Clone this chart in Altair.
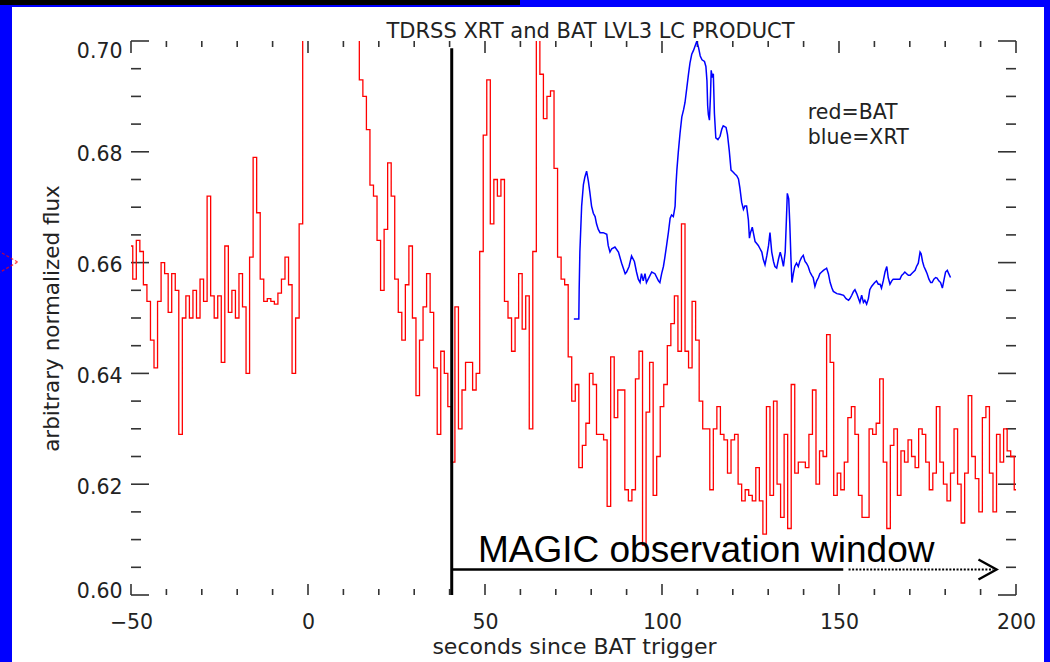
import altair as alt
import pandas as pd

# ---------------- data ----------------
# BAT (red) light curve: 1-s bins from -50 s to 200 s
bat_time = list(range(-50, 201))
bat_flux = [
    0.663, 0.657, 0.664, 0.662, 0.656, 0.653, 0.646, 0.641, 0.653, 0.660,   # -50..-41
    0.658, 0.651, 0.658, 0.655, 0.629, 0.650, 0.654, 0.650, 0.655, 0.650,   # -40..-31
    0.657, 0.653, 0.672, 0.654, 0.650, 0.654, 0.642, 0.663, 0.651, 0.655,   # -30..-21
    0.650, 0.658, 0.652, 0.640, 0.661, 0.679, 0.669, 0.657, 0.653, 0.6535,  # -20..-11
    0.653, 0.6525, 0.6545, 0.657, 0.661, 0.656, 0.640, 0.650, 0.667, 0.730, # -10..-1
    0.760, 0.790, 0.810, 0.830, 0.820, 0.800, 0.780, 0.770, 0.760, 0.750,   # 0..9
    0.740, 0.730, 0.720, 0.715, 0.708, 0.693, 0.690, 0.684, 0.674, 0.672,   # 10..19
    0.664, 0.655, 0.666, 0.678, 0.672, 0.657, 0.651, 0.646, 0.656, 0.663,   # 20..29
    0.650, 0.636, 0.646, 0.652, 0.658, 0.651, 0.641, 0.629, 0.644, 0.640,   # 30..39
    0.634, 0.624, 0.652, 0.630, 0.637, 0.642, 0.642, 0.637, 0.640, 0.662,   # 40..49
    0.683, 0.693, 0.667, 0.675, 0.672, 0.675, 0.653, 0.650, 0.644, 0.650,   # 50..59
    0.658, 0.648, 0.654, 0.630, 0.662, 0.705, 0.694, 0.686, 0.690, 0.691,   # 60..69
    0.677, 0.661, 0.657, 0.656, 0.643, 0.635, 0.638, 0.623, 0.627, 0.631,   # 70..79
    0.640, 0.638, 0.629, 0.629, 0.628, 0.616, 0.643, 0.632, 0.637, 0.637,   # 80..89
    0.619, 0.617, 0.619, 0.639, 0.644, 0.609, 0.633, 0.642, 0.618, 0.625,   # 90..99
    0.634, 0.638, 0.645, 0.649, 0.654, 0.644, 0.667, 0.644, 0.641, 0.653,   # 100..109
    0.646, 0.635, 0.630, 0.630, 0.619, 0.630, 0.634, 0.629, 0.628, 0.622,   # 110..119
    0.628, 0.629, 0.620, 0.617, 0.619, 0.618, 0.617, 0.623, 0.617, 0.611,   # 120..129
    0.634, 0.618, 0.635, 0.620, 0.614, 0.629, 0.612, 0.638, 0.622, 0.624,   # 130..139
    0.624, 0.623, 0.629, 0.637, 0.620, 0.626, 0.625, 0.647, 0.642, 0.618,   # 140..149
    0.622, 0.619, 0.624, 0.632, 0.634, 0.629, 0.618, 0.614, 0.614, 0.630,   # 150..159
    0.629, 0.631, 0.639, 0.624, 0.612, 0.627, 0.630, 0.618, 0.626, 0.624,   # 160..169
    0.628, 0.625, 0.623, 0.630, 0.629, 0.624, 0.619, 0.622, 0.634, 0.624,   # 170..179
    0.620, 0.617, 0.622, 0.630, 0.620, 0.613, 0.622, 0.636, 0.625, 0.621,   # 180..189
    0.615, 0.632, 0.634, 0.622, 0.615, 0.629, 0.624, 0.630, 0.626, 0.625, 0.619,  # 190..200
]

# XRT (blue) light curve
xrt_time = [
    75.1, 76.5, 76.6, 76.8, 77.3, 77.8, 78.2, 78.7, 79.2, 79.6,
    80.1, 80.6, 81.1, 81.5, 82.0, 82.5, 83.4, 84.4, 84.8, 85.3,
    85.8, 86.7, 87.7, 88.6, 89.6, 90.0, 90.7, 91.4, 92.2, 92.8,
    93.3, 93.8, 94.2, 94.7, 95.2, 95.6, 96.3, 97.1, 98.0, 99.0,
    99.4, 99.9, 100.4, 100.8, 101.3, 101.8, 102.3, 102.7, 103.2, 103.7,
    103.9, 104.2, 104.6, 105.1, 105.6, 106.1, 106.5, 107.0, 107.5, 107.9,
    108.4, 108.9, 109.4, 109.8, 110.3, 110.8, 111.3, 112.0, 112.4, 112.7,
    112.9, 113.1, 113.4, 113.7, 113.9, 114.2, 114.5, 114.8, 115.2, 115.8,
    116.4, 116.9, 117.3, 118.1, 118.5, 119.0, 119.5, 120.0, 120.6, 121.1,
    121.6, 122.0, 122.5, 123.0, 123.4, 123.9, 124.4, 124.7, 125.0, 125.5,
    125.8, 126.3, 126.7, 127.2, 127.7, 128.2, 128.6, 129.1, 129.6, 130.1,
    130.5, 131.0, 131.5, 131.9, 132.4, 132.9, 133.4, 133.8, 134.3, 134.8,
    135.1, 135.4, 135.8, 136.1, 136.4, 136.7, 137.1, 137.5, 138.0, 138.5,
    138.9, 139.4, 139.9, 140.4, 140.8, 141.3, 141.8, 142.3, 142.7, 143.2,
    143.7, 144.2, 144.6, 145.1, 145.6, 146.1, 146.5, 147.0, 147.5, 148.0,
    148.4, 149.4, 150.3, 151.3, 152.0, 152.7, 153.1, 153.6, 154.1, 154.5,
    155.0, 155.5, 155.9, 156.4, 156.9, 157.3, 157.8, 158.3, 158.7, 159.2,
    159.7, 160.1, 160.6, 161.1, 161.6, 162.0, 162.5, 163.0, 163.5, 163.9,
    164.4, 164.9, 165.3, 166.3, 167.2, 167.7, 168.2, 168.6, 169.1, 169.6,
    170.1, 170.5, 171.0, 171.5, 171.9, 172.4, 172.9, 173.2, 173.6, 174.0,
    174.5, 174.9, 175.4, 175.9, 176.3, 176.8, 177.3, 177.7, 178.2, 178.7,
    179.2, 179.6, 180.1, 180.6, 181.0, 181.5,
]
xrt_flux = [
    0.6498, 0.6498, 0.6551, 0.6619, 0.6702, 0.6741, 0.6754, 0.6765, 0.6747, 0.6728,
    0.6702, 0.6689, 0.6683, 0.6670, 0.6660, 0.6654, 0.6654, 0.6651, 0.6631, 0.6619,
    0.6625, 0.6628, 0.6619, 0.6599, 0.6580, 0.6583, 0.6593, 0.6612, 0.6602, 0.6583,
    0.6570, 0.6564, 0.6580, 0.6567, 0.6580, 0.6564, 0.6573, 0.6583, 0.6580, 0.6567,
    0.6564, 0.6580, 0.6593, 0.6609, 0.6631, 0.6654, 0.6680, 0.6686, 0.6683, 0.6702,
    0.6735, 0.6767, 0.6799, 0.6834, 0.6863, 0.6876, 0.6889, 0.6915, 0.6941, 0.6960,
    0.6976, 0.6983, 0.6992, 0.6999, 0.6989, 0.6973, 0.6966, 0.6963, 0.6954, 0.6928,
    0.6883, 0.6867, 0.6857, 0.6902, 0.6947, 0.6934, 0.6941, 0.6870, 0.6825, 0.6822,
    0.6828, 0.6841, 0.6847, 0.6844, 0.6831, 0.6802, 0.6767, 0.6764, 0.6760, 0.6757,
    0.6751, 0.6735, 0.6709, 0.6696, 0.6702, 0.6702, 0.6677, 0.6644, 0.6654, 0.6664,
    0.6654, 0.6638, 0.6635, 0.6631, 0.6625, 0.6619, 0.6606, 0.6596, 0.6612, 0.6631,
    0.6654, 0.6619, 0.6602, 0.6593, 0.6590, 0.6606, 0.6619, 0.6609, 0.6593, 0.6619,
    0.6670, 0.6725, 0.6715, 0.6670, 0.6612, 0.6564, 0.6580, 0.6593, 0.6599, 0.6593,
    0.6602, 0.6609, 0.6613, 0.6602, 0.6599, 0.6593, 0.6583, 0.6577, 0.6573, 0.6557,
    0.6567, 0.6573, 0.6580, 0.6583, 0.6586, 0.6588, 0.6590, 0.6580, 0.6564, 0.6554,
    0.6548, 0.6544, 0.6543, 0.6541, 0.6535, 0.6532, 0.6535, 0.6541, 0.6548, 0.6551,
    0.6544, 0.6535, 0.6528, 0.6541, 0.6528, 0.6532, 0.6525, 0.6535, 0.6551, 0.6557,
    0.6561, 0.6564, 0.6567, 0.6561, 0.6561, 0.6554, 0.6567, 0.6583, 0.6593, 0.6573,
    0.6561, 0.6567, 0.6570, 0.6570, 0.6570, 0.6577, 0.6580, 0.6583, 0.6580, 0.6577,
    0.6577, 0.6580, 0.6583, 0.6586, 0.6593, 0.6599, 0.6619, 0.6616, 0.6602, 0.6593,
    0.6586, 0.6580, 0.6570, 0.6564, 0.6564, 0.6570, 0.6573, 0.6572, 0.6567, 0.6564,
    0.6554, 0.6567, 0.6583, 0.6586, 0.6580, 0.6573,
]

# axis ticks
x_major = [-50, 0, 50, 100, 150, 200]
x_minor = [-40, -30, -20, -10, 10, 20, 30, 40, 60, 70, 80, 90,
           110, 120, 130, 140, 160, 170, 180, 190]
y_major = [0.60, 0.62, 0.64, 0.66, 0.68, 0.70]
y_minor = [0.605, 0.61, 0.615, 0.625, 0.63, 0.635, 0.645, 0.65, 0.655,
           0.665, 0.67, 0.675, 0.685, 0.69, 0.695]

# MAGIC observation window annotation
magic_start = 40.6
magic_top = 0.6987
magic_level = 0.6046
magic_solid_end = 151.2
magic_dot_start = 152.7
magic_dot_end = 193.6
arrow_t = [189.4, 194.5, 189.4]
arrow_v = [0.6064, 0.6046, 0.6028]

legend_labels = ["red=BAT", "blue=XRT"]
legend_t = [141.2, 141.2]
legend_v = [0.6859, 0.6814]

title_text = "TDRSS XRT and BAT LVL3 LC PRODUCT"

# ---------------- chart ----------------
W, H = 885, 554
FONT = "DejaVu Sans"
TXT = "#222222"
AX = "#333333"

xs = alt.Scale(domain=[-50, 200], nice=False, zero=False)
ys = alt.Scale(domain=[0.60, 0.70], nice=False, zero=False)

xaxis = alt.Axis(
    values=x_major, format="d", grid=False, ticks=False, domain=False, tickSize=0,
    labelPadding=17, labelFont=FONT, labelFontSize=20.5, labelColor=TXT,
    labelFlush=False, labelOverlap=False, zindex=5,
    title="seconds since BAT trigger", titleFont=FONT, titleFontSize=22,
    titleFontWeight="normal", titleColor=TXT, titleX=443, titleY=58,
    titleBaseline="alphabetic", titleAlign="center",
)
yaxis = alt.Axis(
    values=y_major, format=".2f", grid=False, ticks=False, domain=False, tickSize=0,
    labelPadding=9, labelFont=FONT, labelFontSize=20.5, labelColor=TXT,
    labelFlush=False, labelOverlap=False, zindex=5,
    labelBaseline={"condition": [{"test": "datum.value > 0.699", "value": "top"},
                                 {"test": "datum.value < 0.601", "value": "alphabetic"}],
                   "value": "middle"},
    labelOffset={"condition": [{"test": "datum.value > 0.699", "value": 0},
                               {"test": "datum.value < 0.601", "value": 2}],
                 "value": 3},
    title="arbitrary normalized flux", titleFont=FONT, titleFontSize=21.5,
    titleFontWeight="normal", titleColor=TXT, titleX=-73, titleY=277,
    titleAngle=270, titleBaseline="alphabetic", titleAlign="center",
)

X = alt.X("t:Q", scale=xs, axis=xaxis)
Y = alt.Y("v:Q", scale=ys, axis=yaxis)

one = pd.DataFrame({"k": [0]})

# page background: white panel framed in blue, black strip top-left
bg_white = alt.Chart(one).mark_rect(color="white").encode(
    x=alt.value(-119), x2=alt.value(913), y=alt.value(-34), y2=alt.value(621))
bg_black = alt.Chart(one).mark_rect(color="black").encode(
    x=alt.value(-131), x2=alt.value(389), y=alt.value(-41), y2=alt.value(-36))
deco_tri = alt.Chart(one).mark_point(
    shape="triangle-right", filled=False, size=1300, color="#FF0000",
    strokeWidth=1.3, strokeDash=[3, 2]).encode(x=alt.value(-129), y=alt.value(221))

title_mark = alt.Chart(one).mark_text(
    text=title_text, align="center", baseline="alphabetic", font=FONT,
    fontSize=21, color=TXT
).encode(x=alt.value(459.5), y=alt.value(-3))

xmaj = pd.DataFrame({"t": x_major})
xmin = pd.DataFrame({"t": x_minor})
ymaj = pd.DataFrame({"v": y_major})
ymin = pd.DataFrame({"v": y_minor})


def xtick(df, y1, y2):
    return alt.Chart(df).mark_rule(color=AX, strokeWidth=1.6).encode(
        x=X, y=alt.value(y1), y2=alt.value(y2))


def ytick(df, x1, x2):
    return alt.Chart(df).mark_rule(color=AX, strokeWidth=1.6).encode(
        y=Y, x=alt.value(x1), x2=alt.value(x2))


ticks = [
    xtick(xmaj, H, H - 11), xtick(xmin, H, H - 6),
    xtick(xmaj, 0, 12), xtick(xmin, 0, 6),
    ytick(ymaj, 0, 18), ytick(ymin, 0, 10),
    ytick(ymaj, W, W - 18), ytick(ymin, W, W - 10),
]

bat_df = pd.DataFrame({"t": bat_time, "v": bat_flux})
xrt_df = pd.DataFrame([{"t": t, "v": v} for t, v in zip(xrt_time, xrt_flux)])

bat_line = alt.Chart(bat_df).mark_line(
    interpolate="step", color="#FF0000", strokeWidth=1.3, clip=True
).encode(x=X, y=Y)

xrt_line = alt.Chart(xrt_df).mark_line(
    color="#0000FF", strokeWidth=1.5, clip=True
).encode(x=X, y=Y)

vline = alt.Chart(pd.DataFrame({"t": [magic_start], "v": [0.60], "v2": [magic_top]})).mark_rule(
    color="black", strokeWidth=3
).encode(x=X, y=Y, y2="v2:Q")

hsolid = alt.Chart(pd.DataFrame({"t": [magic_start], "t2": [magic_solid_end], "v": [magic_level]})).mark_rule(
    color="black", strokeWidth=2.6
).encode(x=X, x2="t2:Q", y=Y)

hdot = alt.Chart(pd.DataFrame({"t": [magic_dot_start], "t2": [magic_dot_end], "v": [magic_level]})).mark_rule(
    color="black", strokeWidth=2, strokeDash=[2, 1.6]
).encode(x=X, x2="t2:Q", y=Y)

arrow = alt.Chart(pd.DataFrame({"t": arrow_t, "v": arrow_v, "i": [0, 1, 2]})).mark_line(
    color="black", strokeWidth=2.4
).encode(x=X, y=Y, order=alt.Order("i:Q"))

legend = alt.Chart(pd.DataFrame({"t": legend_t, "v": legend_v, "label": legend_labels})).mark_text(
    align="left", baseline="alphabetic", font=FONT, fontSize=20.5, color=TXT
).encode(x=X, y=Y, text="label:N")

magic_text = alt.Chart(pd.DataFrame({"t": [48.0], "v": [0.606], "label": ["MAGIC observation window"]})).mark_text(
    align="left", baseline="alphabetic", font="Liberation Sans", fontSize=37, color="black"
).encode(x=X, y=Y, text="label:N")

chart = alt.layer(
    bg_white, bg_black, deco_tri, title_mark,
    *ticks,
    bat_line, xrt_line, vline, hsolid, hdot, arrow, legend, magic_text,
).properties(
    width=W, height=H,
    padding={"left": 131, "top": 41, "right": 34, "bottom": 67},
    autosize=alt.AutoSizeParams(type="none"),
    background="#0000FF",
).configure_view(stroke=AX, strokeWidth=2)

chart.save("out.html", embed_options={"renderer": "svg", "actions": False})
